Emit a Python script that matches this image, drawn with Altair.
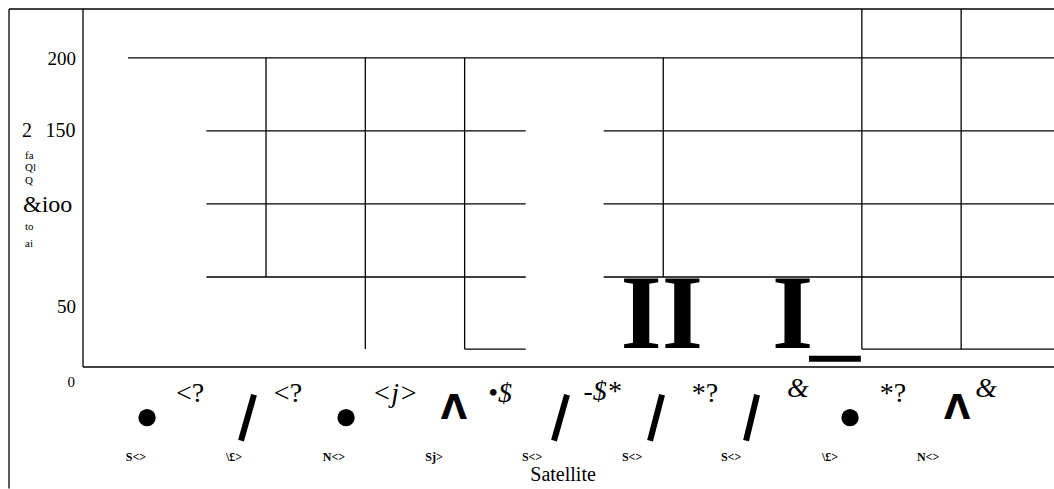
import altair as alt
import pandas as pd

# Scale extents of the plotting frame
X_DOMAIN = [-0.343, 9.435]
Y_DOMAIN = [-11.6, 233.4]

# Horizontal rule segments (value level, start, end)
h_y = [200, 150, 150, 100, 100, 50, 50, 0.7, 0.7, 233.4, -11.6]
h_x1 = [0.11, 0.9, 4.9, 0.9, 4.9, 0.9, 4.9, 3.5, 7.5, -1.088, -0.343]
h_x2 = [9.435, 4.115, 9.435, 4.115, 9.435, 4.115, 9.435, 4.115, 9.435, 9.435, 9.435]

# Vertical rule segments (position, bottom, top)
v_x = [1.5, 2.5, 3.5, 5.5, 7.5, 8.5, -0.343, -1.088]
v_y1 = [50, 0.7, 0.7, 50, 0.7, 0.7, -11.6, -94.8]
v_y2 = [200, 200, 200, 200, 233.4, 233.4, 233.4, 233.4]

# Slanted strokes under the axis
s_x1 = [1.248, 4.400, 5.367, 6.334]
s_x2 = [1.379, 4.531, 5.488, 6.445]
s_y1 = [-62.0, -62.0, -62.0, -62.0]
s_y2 = [-30.6, -30.6, -30.6, -30.6]

# Dots and carets under the axis
dot_x = [0.302, 2.306, 7.381]
dot_y = [-46.3, -46.3, -46.3]
caret_x = [3.393, 8.459]
caret_y = [-47.0, -47.0]

# Heavy glyphs near the baseline
glyph_text = ["II", "I"]
glyph_x = [5.484, 6.802]
glyph_y = [1.57, 1.57]

# Underscore bar
bar_x1, bar_x2, bar_y1, bar_y2 = [6.968], [7.49], [-3.9], [-8.0]

# Raised marks above the category labels
sup_text = ["<?", "<?", "*?", "*?"]
sup_x = [0.735, 1.721, 5.921, 7.814]
sup_y = [-35.3, -35.3, -35.3, -35.3]
supi_text = ["<j>", "•$", "-$*", "&", "&"]
supi_x = [2.799, 3.856, 4.884, 6.857, 8.751]
supi_y = [-35.3, -35.3, -33.9, -31.9, -31.9]

# Category labels
cat_text = ["S<>", "\\£>", "N<>", "Sj>", "S<>", "S<>", "S<>", "\\£>", "N<>"]
cat_x = [0.191, 1.178, 2.185, 3.192, 4.179, 5.186, 6.183, 7.180, 8.167]
cat_y = [-75.7] * 9

# Value labels on the left
ytick_text = ["200", "150", "50", "0"]
ytick_x = [-0.4135, -0.4185, -0.4135, -0.424]
ytick_y = [195.1, 145.8, 25.5, -25.1]
ytick_size = [19, 20, 19, 15]

# Fragments of the vertical title
ytitle_text = ["fa", "Ql", "Q", "&ioo", "to", "ai"]
ytitle_x = [-0.927, -0.927, -0.927, -0.947, -0.927, -0.927]
ytitle_y = [130.6, 122.2, 113.4, 94.6, 82.3, 70.6]
ytitle_size = [11, 11, 11, 24, 11, 11]
lead_text, lead_x, lead_y = ["2"], [-0.907], [145.8]

xs = alt.Scale(domain=X_DOMAIN, nice=False, zero=False)
ys = alt.Scale(domain=Y_DOMAIN, nice=False, zero=False)
SERIF = "Liberation Serif"


def X(f="x"):
    return alt.X(f"{f}:Q", scale=xs, axis=None)


def Y(f="y"):
    return alt.Y(f"{f}:Q", scale=ys, axis=None)


hseg = alt.Chart(pd.DataFrame({"y": h_y, "x": h_x1, "x2": h_x2})).mark_rule(
    color="black", strokeWidth=1.3
).encode(x=X(), x2="x2:Q", y=Y())

vseg = alt.Chart(pd.DataFrame({"x": v_x, "y": v_y1, "y2": v_y2})).mark_rule(
    color="black", strokeWidth=1.3
).encode(x=X(), y=Y(), y2="y2:Q")

slashes = alt.Chart(
    pd.DataFrame({"x": s_x1, "x2": s_x2, "y": s_y1, "y2": s_y2})
).mark_rule(color="black", strokeWidth=6).encode(x=X(), x2="x2:Q", y=Y(), y2="y2:Q")

dots = alt.Chart(pd.DataFrame({"x": dot_x, "y": dot_y})).mark_circle(
    size=300, color="black", opacity=1
).encode(x=X(), y=Y())

carets = alt.Chart(pd.DataFrame({"x": caret_x, "y": caret_y})).mark_text(
    text="Λ", font="DejaVu Sans", fontWeight="bold", fontSize=34,
    align="center", baseline="alphabetic", color="black"
).encode(x=X(), y=Y())

glyphs = alt.Chart(pd.DataFrame({"t": glyph_text, "x": glyph_x, "y": glyph_y})).mark_text(
    font=SERIF, fontWeight="bold", fontSize=106, align="center",
    baseline="alphabetic", color="black"
).encode(x=X(), y=Y(), text="t:N")

bar = alt.Chart(
    pd.DataFrame({"x": bar_x1, "x2": bar_x2, "y": bar_y1, "y2": bar_y2})
).mark_rect(color="black").encode(x=X(), x2="x2:Q", y=Y(), y2="y2:Q")

sups = alt.Chart(pd.DataFrame({"t": sup_text, "x": sup_x, "y": sup_y})).mark_text(
    font=SERIF, fontSize=28, align="center", baseline="alphabetic", color="black"
).encode(x=X(), y=Y(), text="t:N")

supis = alt.Chart(pd.DataFrame({"t": supi_text, "x": supi_x, "y": supi_y})).mark_text(
    font=SERIF, fontStyle="italic", fontSize=28, align="center",
    baseline="alphabetic", color="black"
).encode(x=X(), y=Y(), text="t:N")

cats = alt.Chart(pd.DataFrame({"t": cat_text, "x": cat_x, "y": cat_y})).mark_text(
    font=SERIF, fontWeight="bold", fontSize=12, align="center",
    baseline="alphabetic", color="black"
).encode(x=X(), y=Y(), text="t:N")

xtitle = alt.Chart(pd.DataFrame({"t": ["Satellite"], "x": [4.491], "y": [-89.4]})).mark_text(
    font=SERIF, fontSize=20, align="center", baseline="alphabetic", color="black"
).encode(x=X(), y=Y(), text="t:N")

yticks = alt.Chart(
    pd.DataFrame({"t": ytick_text, "x": ytick_x, "y": ytick_y, "s": ytick_size})
).mark_text(font=SERIF, align="right", baseline="alphabetic", color="black").encode(
    x=X(), y=Y(), text="t:N", size=alt.Size("s:Q", scale=None, legend=None)
)

ytitle = alt.Chart(
    pd.DataFrame({"t": ytitle_text, "x": ytitle_x, "y": ytitle_y, "s": ytitle_size})
).mark_text(font=SERIF, align="left", baseline="alphabetic", color="black").encode(
    x=X(), y=Y(), text="t:N", size=alt.Size("s:Q", scale=None, legend=None)
)

lead = alt.Chart(pd.DataFrame({"t": lead_text, "x": lead_x, "y": lead_y})).mark_text(
    font=SERIF, fontSize=20, align="center", baseline="alphabetic", color="black"
).encode(x=X(), y=Y(), text="t:N")

chart = (
    alt.layer(hseg, vseg, slashes, dots, carets, glyphs, bar, sups, supis,
              cats, xtitle, yticks, ytitle, lead)
    .properties(
        width=971,
        height=358,
        padding={"left": 83, "top": 9, "right": 0, "bottom": 122},
        autosize=alt.AutoSizeParams(type="none"),
        background="white",
    )
    .configure_view(stroke=None)
)

chart.save("out.html", embed_options={"renderer": "svg", "actions": False})
